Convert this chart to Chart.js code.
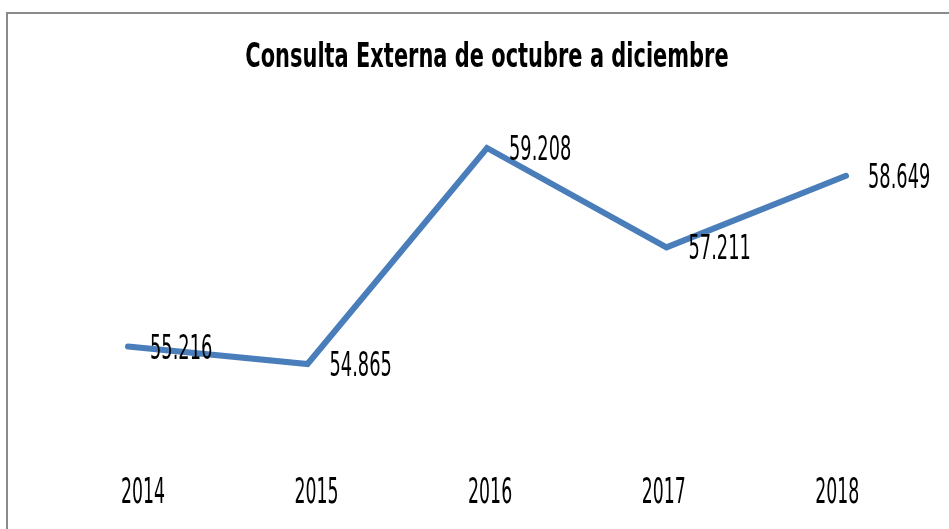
<!DOCTYPE html>
<html>
<head>
<meta charset="utf-8">
<script src="https://cdn.jsdelivr.net/npm/chart.js@4/dist/chart.umd.min.js"></script>
<style>
  html, body { margin: 0; padding: 0; background: #fff; overflow: hidden; }
  #frame { position: absolute; left: 6px; top: 12px; width: 1000px; height: 600px; border: 2px solid #8a8a8a; }
  #lineChart { position: absolute; left: 0; top: 0; }
</style>
</head>
<body>
<div id="frame"></div>
<canvas id="lineChart" width="949" height="529"></canvas>
<script>
const years = ['2014', '2015', '2016', '2017', '2018'];
const visits = [55.216, 54.865, 59.208, 57.211, 58.649];
const valueLabels = ['55.216', '54.865', '59.208', '57.211', '58.649'];
const chartTitle = 'Consulta Externa de octubre a diciembre';

const narrow = '"DejaVu Sans Condensed", "Liberation Sans Narrow", sans-serif';

// draw condensed text (narrow display font look)
function squeezeText(ctx, text, x, y, sx, align) {
    ctx.save();
    ctx.translate(x, y);
    ctx.scale(sx, 1);
    ctx.textAlign = align;
    ctx.fillText(text, 0, 0);
    ctx.restore();
}

const textLayer = {
    id: 'textLayer',
    afterDatasetsDraw(chart) {
        const ctx = chart.ctx;
        const area = chart.chartArea;
        ctx.save();
        ctx.fillStyle = '#000';
        ctx.textBaseline = 'alphabetic';

        // title
        ctx.font = 'bold 34px ' + narrow;
        squeezeText(ctx, chartTitle, (area.left + area.right) / 2, 67, 0.685, 'center');

        // point values, right of each point
        ctx.font = '33px ' + narrow;
        chart.getDatasetMeta(0).data.forEach((pt, i) => {
            squeezeText(ctx, valueLabels[i], pt.x + 22, pt.y + 12, 0.6, 'left');
        });

        // category labels
        const xt = chart.scales.xt;
        ctx.font = '35px ' + narrow;
        years.forEach((y, i) => {
            squeezeText(ctx, y, xt.getPixelForValue(i), 503, 0.55, 'center');
        });
        ctx.restore();
    }
};

new Chart(document.getElementById('lineChart'), {
    type: 'line',
    data: {
        labels: years,
        datasets: [{
            data: visits,
            borderColor: '#4a7ebb',
            borderWidth: 6,
            borderCapStyle: 'round',
            borderJoinStyle: 'miter',
            pointRadius: 0,
            tension: 0,
            fill: false
        }]
    },
    options: {
        responsive: false,
        animation: false,
        layout: {
            padding: { left: 38.25, right: 13.25, top: 108.6, bottom: 72.2 }
        },
        plugins: {
            legend: { display: false },
            tooltip: { enabled: false },
            title: { display: false }
        },
        scales: {
            x: {
                display: false,
                offset: true
            },
            // label axis (Excel places the year labels a bit inward)
            xt: {
                type: 'linear',
                axis: 'x',
                position: 'bottom',
                display: false,
                min: -0.603,
                max: 4.567
            },
            y: {
                display: false,
                min: 53,
                max: 60
            }
        }
    },
    plugins: [textLayer]
});
</script>
</body>
</html>
